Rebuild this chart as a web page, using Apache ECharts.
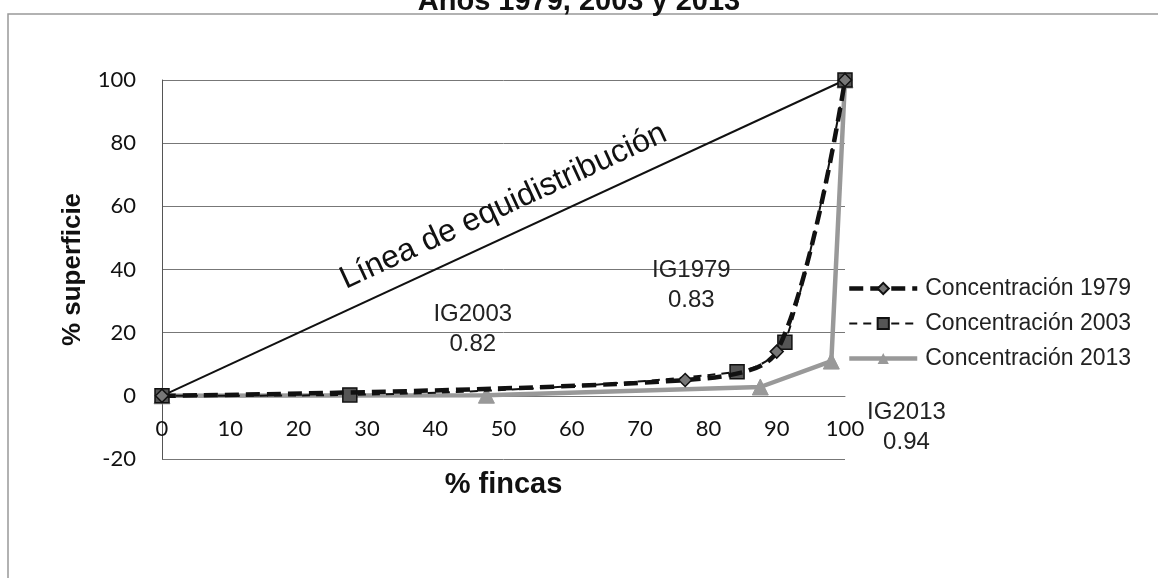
<!DOCTYPE html>
<html>
<head>
<meta charset="utf-8">
<script src="https://cdn.jsdelivr.net/npm/echarts@6/dist/echarts.min.js"></script>
<style>
  html, body { margin: 0; padding: 0; background: #fff; }
  #chart { width: 1158px; height: 578px; }
</style>
</head>
<body>
<div id="chart"></div>
<script>
// data
const seriesNames = ['Concentración 1979', 'Concentración 2003', 'Concentración 2013']
const conc1979 = [[0, 0], [76.6, 5], [90, 14], [100, 100]]
const conc2003 = [[0, 0], [27.5, 0.3], [84.2, 7.6], [91.2, 17], [100, 100]]
const conc2013 = [[0, 0], [47.5, 0.2], [87.6, 2.8], [98, 11], [100, 100]]
const equiLine = [[0, 0], [100, 100]]
const giNotes = [
  { name: 'IG1979', value: '0.83', at: [77.5, 35.1] },
  { name: 'IG2003', value: '0.82', at: [45.5, 20.9] },
  { name: 'IG2013', value: '0.94', at: [109, -10] }
]

const chart = echarts.init(document.getElementById('chart'))

const baseFont = 'Liberation Sans, Arial'

const option = {
  backgroundColor: '#fff',
  animation: false,
  grid: { left: 162, right: 313, top: 80, bottom: 119 },
  legend: {
    orient: 'vertical',
    left: 842,
    top: 272,
    itemWidth: 68,
    itemHeight: 14,
    itemGap: 12,
    data: [
      { name: seriesNames[0], lineStyle: { width: 4.5, type: [14, 7] } },
      { name: seriesNames[1], lineStyle: { width: 2, type: [8, 6] } },
      { name: seriesNames[2], lineStyle: { width: 4.5 } }
    ],
    textStyle: { fontFamily: baseFont, fontSize: 23, color: '#222', padding: [0, 0, 0, 3] }
  },
  xAxis: {
    type: 'value',
    min: 0,
    max: 100,
    interval: 10,
    name: '% fincas',
    nameLocation: 'middle',
    nameGap: 74,
    nameTextStyle: { fontFamily: baseFont, fontWeight: 'bold', fontSize: 29, color: '#111' },
    // axis sits on y = 0, as in the original
    offset: -63,
    axisLine: { onZero: false, lineStyle: { color: '#777', width: 1 } },
    axisTick: { show: false },
    splitLine: { show: false },
    axisLabel: { margin: 22, fontFamily: 'Lato', fontSize: 22, color: '#111' }
  },
  yAxis: {
    type: 'value',
    min: -20,
    max: 100,
    interval: 20,
    name: '% superficie',
    nameLocation: 'middle',
    nameGap: 76,
    nameRotate: 90,
    nameTextStyle: { fontFamily: baseFont, fontWeight: 'bold', fontSize: 26, color: '#111' },
    axisLine: { show: true, lineStyle: { color: '#555', width: 1 } },
    axisTick: { show: false },
    splitLine: { lineStyle: { color: '#777', width: 1 } },
    axisLabel: { margin: 26, fontFamily: 'Lato', fontSize: 22, color: '#111' }
  },
  series: [
    {
      name: 'equi',
      type: 'line',
      data: equiLine,
      symbol: 'none',
      lineStyle: { color: '#111', width: 2 },
      z: 1
    },
    {
      name: seriesNames[0],
      type: 'line',
      data: conc1979,
      smooth: 0.3,
      symbol: 'diamond',
      symbolSize: 13,
      itemStyle: { color: '#777', borderColor: '#111', borderWidth: 1.5 },
      lineStyle: { color: '#111', width: 4.5, type: [14, 7] },
      z: 4
    },
    {
      name: seriesNames[1],
      type: 'line',
      data: conc2003,
      smooth: 0.3,
      symbol: 'rect',
      symbolSize: 14,
      itemStyle: { color: '#555', borderColor: '#111', borderWidth: 1.5 },
      lineStyle: { color: '#111', width: 2, type: [8, 6] },
      z: 3
    },
    {
      name: seriesNames[2],
      type: 'line',
      data: conc2013,
      symbol: 'triangle',
      symbolSize: 16,
      itemStyle: { color: '#999', borderColor: '#999' },
      lineStyle: { color: '#999', width: 4.5 },
      z: 2
    }
  ]
}

chart.setOption(option)

// text annotations placed in data coordinates
const graphics = [
  {
    type: 'rect',
    shape: { x: 8, y: 14, width: 1200, height: 620 },
    style: { fill: null, stroke: '#999', lineWidth: 1.5 },
    z: -10
  },
  {
    type: 'text',
    x: 579,
    y: 2,
    style: {
      text: 'Años 1979, 2003 y 2013',
      font: 'bold 29px "Liberation Sans", Arial',
      fill: '#111',
      align: 'center',
      verticalAlign: 'middle'
    }
  }
]

const p0 = chart.convertToPixel({ gridIndex: 0 }, [0, 0])
const p1 = chart.convertToPixel({ gridIndex: 0 }, [100, 100])
const angle = Math.atan2(p0[1] - p1[1], p1[0] - p0[0])
const mid = chart.convertToPixel({ gridIndex: 0 }, [50, 60])
graphics.push({
  type: 'text',
  x: mid[0],
  y: mid[1],
  rotation: angle,
  style: {
    text: 'Línea de equidistribución',
    font: '32px "Liberation Sans", Arial',
    fill: '#111',
    align: 'center',
    verticalAlign: 'middle'
  }
})

giNotes.forEach(function (n) {
  const p = chart.convertToPixel({ gridIndex: 0 }, n.at)
  graphics.push({
    type: 'text',
    x: p[0],
    y: p[1],
    style: {
      text: n.name + '\n' + n.value,
      font: '24px "Liberation Sans", Arial',
      fill: '#222',
      align: 'center',
      verticalAlign: 'middle',
      lineHeight: 30
    }
  })
})

chart.setOption({ graphic: graphics })
</script>
</body>
</html>
